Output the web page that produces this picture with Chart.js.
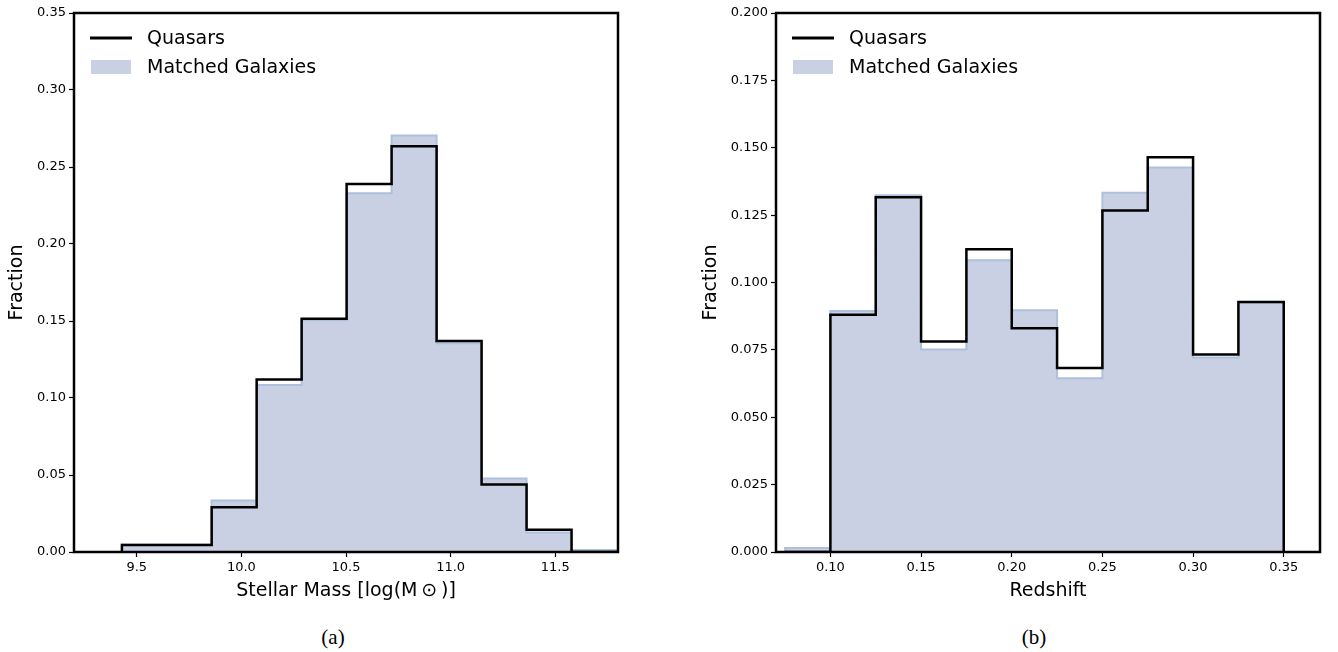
<!DOCTYPE html>
<html lang="en">
<head>
    <meta charset="UTF-8">
    <title>Quasars vs Matched Galaxies</title>
    <style>
        body {
            margin: 0;
            padding: 0;
            background: #fff;
            width: 1338px;
            height: 652px;
            position: relative;
            overflow: hidden;
        }

        canvas {
            position: absolute;
            top: 0;
        }

        #massChart { left: 0; }
        #zChart { left: 700px; }

        .caption {
            position: absolute;
            top: 625px;
            width: 100px;
            text-align: center;
            font-family: 'Liberation Serif', 'DejaVu Serif', serif;
            font-size: 21px;
            line-height: 24px;
            color: #000;
        }
    </style>
</head>
<body>
    <canvas id="massChart" width="660" height="610"></canvas>
    <canvas id="zChart" width="638" height="610"></canvas>
    <div class="caption" style="left: 283px;">(a)</div>
    <div class="caption" style="left: 984px;">(b)</div>

    <script src="https://cdn.jsdelivr.net/npm/chart.js"></script>
    <script>
        // Panel (a): stellar mass histogram
        const massEdges = [9.429, 9.644, 9.858, 10.073, 10.288, 10.503, 10.718, 10.933, 11.148, 11.363, 11.578, 11.793];
        const quasarMass = [0.0046, 0.0046, 0.029, 0.112, 0.1515, 0.239, 0.2635, 0.137, 0.0438, 0.0145, 0];
        const galaxyMass = [0.0048, 0.0048, 0.0335, 0.1085, 0.1505, 0.233, 0.2705, 0.1355, 0.0478, 0.0126, 0.0013];
        const massTicks = [9.5, 10.0, 10.5, 11.0, 11.5];
        const massFracTicks = [0, 0.05, 0.10, 0.15, 0.20, 0.25, 0.30, 0.35];

        // Panel (b): redshift histogram
        const zEdges = [0.075, 0.1, 0.125, 0.15, 0.175, 0.2, 0.225, 0.25, 0.275, 0.3, 0.325, 0.35];
        const quasarZ = [0, 0.088, 0.1316, 0.0781, 0.1123, 0.083, 0.0683, 0.1267, 0.1465, 0.0733, 0.0928];
        const galaxyZ = [0.0015, 0.0894, 0.1324, 0.0751, 0.1083, 0.0897, 0.0645, 0.1333, 0.1427, 0.0722, 0.0925];
        const zTicks = [0.10, 0.15, 0.20, 0.25, 0.30, 0.35];
        const zFracTicks = [0, 0.025, 0.05, 0.075, 0.10, 0.125, 0.15, 0.175, 0.20];

        const FONT = '"DejaVu Sans", sans-serif';
        const galaxyFill = '#c9d0e3';
        const galaxyEdge = '#adc0dc';

        // turn bin edges + heights into an outline for a stepped line
        function stepPoints(edges, vals) {
            const pts = [{ x: edges[0], y: 0 }];
            vals.forEach((v, i) => pts.push({ x: edges[i + 1], y: v }));
            pts.push({ x: edges[edges.length - 1], y: 0 });
            return pts;
        }

        // matplotlib style: box around axes + legend inside the top-left corner
        const frameAndLegend = {
            id: 'frameAndLegend',
            afterDatasetsDraw(chart) {
                const { ctx, chartArea: a } = chart;
                ctx.save();
                ctx.strokeStyle = '#000';
                ctx.lineWidth = 2.5;
                ctx.strokeRect(a.left, a.top, a.right - a.left, a.bottom - a.top);
                ctx.restore();
            },
            afterDraw(chart) {
                const { ctx, chartArea: a } = chart;
                const ds = chart.data.datasets;
                const x0 = a.left, y0 = a.top;
                ctx.save();
                ctx.strokeStyle = ds[0].borderColor;
                ctx.lineWidth = 3;
                ctx.beginPath();
                ctx.moveTo(x0 + 16, y0 + 25);
                ctx.lineTo(x0 + 58, y0 + 25);
                ctx.stroke();
                ctx.fillStyle = ds[1].backgroundColor;
                ctx.fillRect(x0 + 17, y0 + 47, 40, 14);
                ctx.fillStyle = '#000';
                ctx.font = '19px ' + FONT;
                ctx.textBaseline = 'alphabetic';
                ctx.fillText(ds[0].label, x0 + 73, y0 + 31);
                ctx.fillText(ds[1].label, x0 + 73, y0 + 60);
                ctx.restore();
            }
        };

        function makeChart(id, opts) {
            const tickGrid = {
                display: true,
                drawOnChartArea: false,
                drawTicks: true,
                tickLength: 5,
                tickWidth: 1.2,
                tickColor: '#000'
            };
            return new Chart(document.getElementById(id), {
                type: 'line',
                data: {
                    datasets: [
                        {
                            label: 'Quasars',
                            data: stepPoints(opts.edges, opts.quasar),
                            stepped: 'after',
                            borderColor: '#000',
                            borderWidth: 2.5,
                            pointRadius: 0,
                            fill: false,
                            order: 0
                        },
                        {
                            label: 'Matched Galaxies',
                            data: stepPoints(opts.edges, opts.galaxy),
                            stepped: 'after',
                            borderColor: galaxyEdge,
                            backgroundColor: galaxyFill,
                            borderWidth: 2,
                            pointRadius: 0,
                            fill: 'origin',
                            order: 1
                        }
                    ]
                },
                options: {
                    responsive: false,
                    animation: false,
                    events: [],
                    layout: { padding: { top: 13, right: opts.padRight, left: 0, bottom: 0 } },
                    plugins: {
                        legend: { display: false },
                        tooltip: { enabled: false }
                    },
                    scales: {
                        x: {
                            type: 'linear',
                            min: opts.xMin,
                            max: opts.xMax,
                            afterBuildTicks: s => { s.ticks = opts.xTicks.map(v => ({ value: v })); },
                            afterFit: s => { s.height = 58; },
                            ticks: {
                                autoSkip: false,
                                maxRotation: 0,
                                padding: 3,
                                color: '#000',
                                font: { family: FONT, size: 13 },
                                callback: v => v.toFixed(opts.xDigits)
                            },
                            grid: tickGrid,
                            border: { display: false },
                            title: {
                                display: true,
                                text: opts.xTitle,
                                color: '#000',
                                font: { family: FONT, size: 19 },
                                padding: { top: 0, bottom: 8 }
                            }
                        },
                        y: {
                            min: 0,
                            max: opts.yMax,
                            afterBuildTicks: s => { s.ticks = opts.yTicks.map(v => ({ value: v })); },
                            afterFit: s => { s.width = opts.yWidth; },
                            ticks: {
                                autoSkip: false,
                                padding: 3,
                                color: '#000',
                                font: { family: FONT, size: 13 },
                                callback: v => v.toFixed(opts.yDigits)
                            },
                            grid: tickGrid,
                            border: { display: false },
                            title: {
                                display: true,
                                text: 'Fraction',
                                color: '#000',
                                font: { family: FONT, size: 19 },
                                padding: { top: opts.yTitlePad, bottom: 0 }
                            }
                        }
                    }
                },
                plugins: [frameAndLegend]
            });
        }

        makeChart('massChart', {
            edges: massEdges, quasar: quasarMass, galaxy: galaxyMass,
            xMin: 9.2, xMax: 11.8, xTicks: massTicks, xDigits: 1,
            xTitle: 'Stellar Mass [log(M\u2009\u2299\u2009)]',
            yMax: 0.35, yTicks: massFracTicks, yDigits: 2,
            yWidth: 74, yTitlePad: 6, padRight: 42
        });

        makeChart('zChart', {
            edges: zEdges, quasar: quasarZ, galaxy: galaxyZ,
            xMin: 0.07, xMax: 0.37, xTicks: zTicks, xDigits: 2,
            xTitle: 'Redshift',
            yMax: 0.2, yTicks: zFracTicks, yDigits: 3,
            yWidth: 76, yTitlePad: 0, padRight: 18
        });
    </script>
</body>
</html>
